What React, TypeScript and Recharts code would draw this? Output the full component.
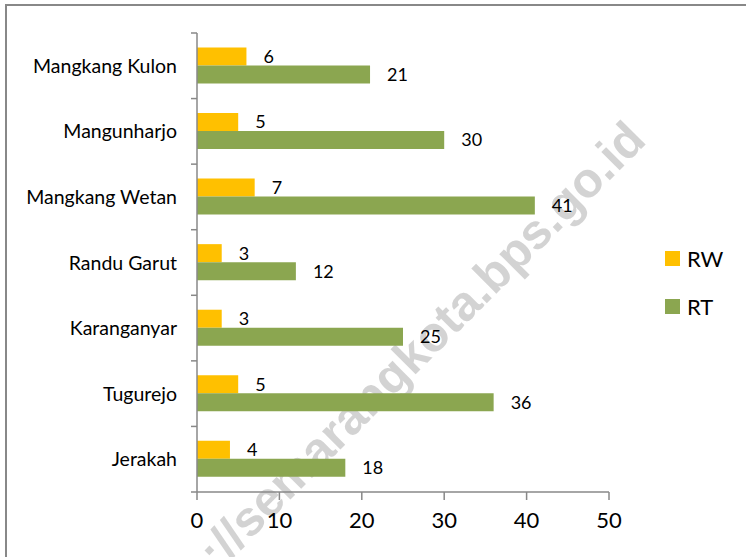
import { BarChart, Bar, XAxis, YAxis, LabelList, Customized } from 'recharts';

const categories = [
  'Mangkang Kulon',
  'Mangunharjo',
  'Mangkang Wetan',
  'Randu Garut',
  'Karanganyar',
  'Tugurejo',
  'Jerakah',
];
const rwValues = [6, 5, 7, 3, 3, 5, 4];
const rtValues = [21, 30, 41, 12, 25, 36, 18];
const xTicks = [0, 10, 20, 30, 40, 50];

const FONT = 'Lato, "Open Sans", sans-serif';
const PLOT_TOP = 33;
const PLOT_H = 459;
const BAND = PLOT_H / categories.length;

// custom y tick: label plus tick marks on the category borders
function CategoryTick(props: any) {
  const { x, y, payload, index } = props;
  const axisX = x + 8;
  return (
    <g>
      <line x1={axisX - 6} x2={axisX} y1={y - BAND / 2} y2={y - BAND / 2} stroke="#888" strokeWidth={1.5} />
      {index === categories.length - 1 && (
        <line x1={axisX - 6} x2={axisX} y1={y + BAND / 2} y2={y + BAND / 2} stroke="#888" strokeWidth={1.5} />
      )}
      <text x={axisX - 20} y={y} dy={7} textAnchor="end" fontSize={19.5} fill="#000" fontFamily={FONT}>
        {payload.value}
      </text>
    </g>
  );
}

function SideLegend() {
  const items = [
    { name: 'RW', color: '#FFC000', y: 251 },
    { name: 'RT', color: '#8BA650', y: 299 },
  ];
  return (
    <g>
      {items.map((it) => (
        <g key={it.name}>
          <rect x={665} y={it.y} width={15} height={15} fill={it.color} />
          <text x={687} y={it.y + 16} fontSize={22} fontFamily={FONT} fill="#000">
            {it.name}
          </text>
        </g>
      ))}
    </g>
  );
}

function Watermark() {
  return (
    <text
      x={648}
      y={142}
      textAnchor="end"
      transform="rotate(-45 648 142)"
      fontSize={49}
      fontWeight="bold"
      fontFamily='"Liberation Sans", Arial, sans-serif'
      fill="#c8c8c8"
      fillOpacity={0.8}
    >
      https://semarangkota.bps.go.id
    </text>
  );
}

export default function App() {
  const data = categories.map((name, i) => ({ name, RW: rwValues[i], RT: rtValues[i] }));

  return (
    <div style={{ position: 'absolute', left: 0, top: 0, width: 746, height: 557, background: '#fff' }}>
      <svg width={746} height={557} style={{ position: 'absolute', left: 0, top: 0 }}>
        <rect x={6} y={5} width={800} height={600} fill="none" stroke="#888" strokeWidth={2} />
      </svg>
      <div style={{ position: 'absolute', left: 0, top: 0 }}>
        <BarChart
          width={746}
          height={557}
          data={data}
          layout="vertical"
          barGap={0}
          barCategoryGap="22%"
          margin={{ top: PLOT_TOP, right: 137, left: 0, bottom: 0 }}
        >
          <XAxis
            type="number"
            domain={[0, 50]}
            ticks={xTicks}
            height={65}
            axisLine={{ stroke: '#888', strokeWidth: 1.5 }}
            tickLine={{ stroke: '#888', strokeWidth: 1.5 }}
            tickSize={8}
            tick={{ fontSize: 22, fill: '#000', fontFamily: FONT }}
            tickMargin={12}
            interval={0}
          />
          <YAxis
            type="category"
            dataKey="name"
            width={197}
            axisLine={{ stroke: '#888', strokeWidth: 1.5 }}
            tickLine={false}
            tick={<CategoryTick />}
            interval={0}
          />
          <Bar dataKey="RW" fill="#FFC000" isAnimationActive={false}>
            <LabelList dataKey="RW" position="right" offset={17} fontSize={18} fill="#000" fontFamily={FONT} />
          </Bar>
          <Bar dataKey="RT" fill="#8BA650" isAnimationActive={false}>
            <LabelList dataKey="RT" position="right" offset={17} fontSize={18} fill="#000" fontFamily={FONT} />
          </Bar>
          <Customized component={SideLegend} />
          <Customized component={Watermark} />
        </BarChart>
      </div>
    </div>
  );
}
